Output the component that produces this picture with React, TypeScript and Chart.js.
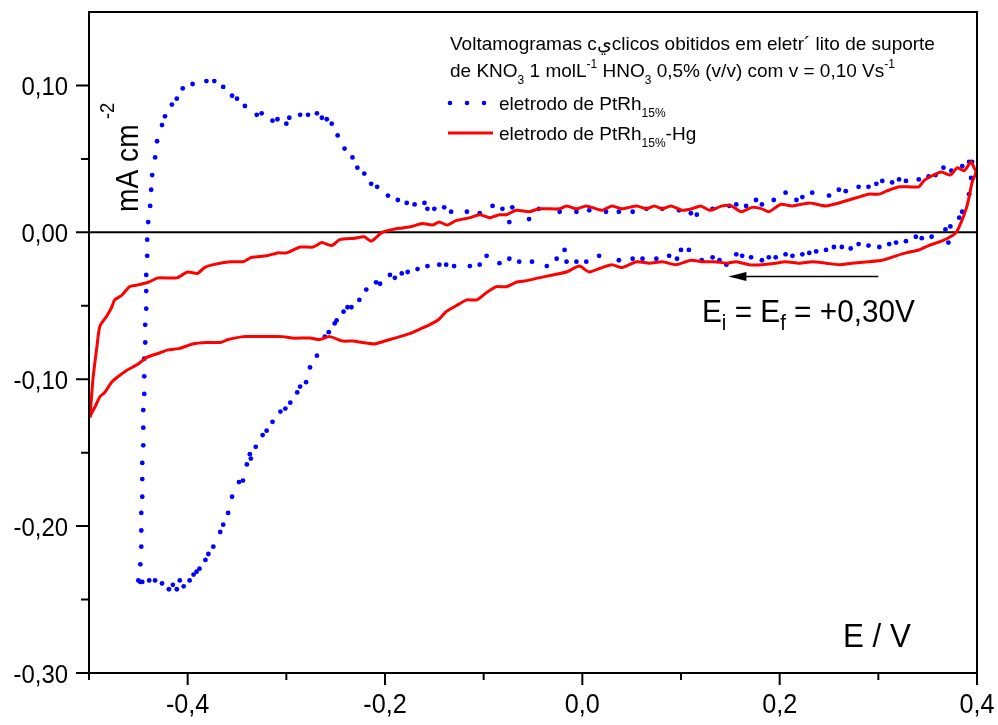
import React, { useEffect, useRef } from 'react';
import { Chart, registerables } from 'chart.js';

Chart.register(...registerables);

// ---- Data (E in V, current density in mA cm^-2) ----
const ptrhE = [
  0.394, 0.392, 0.385, 0.382, 0.373, 0.368, 0.371, 0.354, 0.344, 0.338, 0.328, 0.318, 0.311, 0.301, 0.290, 0.280,
  0.272, 0.263, 0.255, 0.247, 0.237, 0.230, 0.223, 0.213, 0.206, 0.196, 0.189, 0.182, 0.171, 0.162, 0.156, 0.146,
  0.139, 0.132, 0.121, 0.108, 0.100, 0.096, 0.088, 0.075, 0.061, 0.051, 0.037, 0.017, 0.004, -0.006, -0.016, -0.018,
  -0.026, -0.036, -0.051, -0.064, -0.074, -0.084, -0.097, -0.104, -0.114, -0.130, -0.138, -0.145, -0.157, -0.167,
  -0.177, -0.183, -0.190, -0.195, -0.205,
  -0.209, -0.219, -0.226, -0.234, -0.238, -0.242, -0.249, -0.251, -0.257, -0.261, -0.269, -0.276, -0.280, -0.286,
  -0.289, -0.296, -0.301, -0.306, -0.314, -0.320, -0.324, -0.331, -0.337, -0.336, -0.340, -0.344, -0.348, -0.355,
  -0.359, -0.364, -0.367, -0.374, -0.379, -0.382, -0.388, -0.391, -0.394, -0.398, -0.404, -0.408, -0.411, -0.415,
  -0.419, -0.426, -0.433, -0.439, -0.446, -0.448, -0.450,
  -0.448, -0.447, -0.447, -0.447, -0.446, -0.446, -0.446, -0.445, -0.445, -0.445, -0.444, -0.444, -0.444, -0.443,
  -0.443, -0.442, -0.442, -0.442, -0.441, -0.441, -0.440,
  -0.438, -0.437, -0.436, -0.433, -0.431, -0.426, -0.423, -0.416, -0.411, -0.405, -0.395, -0.381, -0.373, -0.364,
  -0.355, -0.350, -0.342, -0.330, -0.325, -0.314, -0.309, -0.300, -0.297, -0.286, -0.278, -0.269, -0.264, -0.259,
  -0.254, -0.248, -0.241, -0.233, -0.228, -0.221, -0.214, -0.208, -0.197, -0.187,
  -0.178, -0.170, -0.160, -0.157, -0.150, -0.140, -0.133, -0.117, -0.104, -0.091, -0.081, -0.074, -0.071, -0.054,
  -0.044, -0.023, -0.006, 0.007, 0.024, 0.037, 0.051, 0.065, 0.081, 0.098, 0.110, 0.116, 0.132, 0.149, 0.156, 0.166,
  0.176, 0.182, 0.194, 0.206, 0.217, 0.223, 0.233, 0.250, 0.260, 0.267, 0.280, 0.290, 0.298, 0.304, 0.314, 0.321,
  0.328, 0.341, 0.351, 0.358, 0.366, 0.374, 0.385, 0.392, 0.395,
];
const ptrhI = [
  0.037, 0.026, 0.014, 0.010, 0.004, 0.002, -0.007, -0.003, -0.004, -0.003, -0.006, -0.007, -0.008, -0.010, -0.009, -0.008,
  -0.011, -0.010, -0.010, -0.012, -0.013, -0.014, -0.015, -0.016, -0.015, -0.017, -0.017, -0.019, -0.017, -0.016, -0.015, -0.022,
  -0.019, -0.017, -0.019, -0.012, -0.012, -0.018, -0.016, -0.018, -0.018, -0.018, -0.019, -0.016, -0.020, -0.020, -0.020, -0.012,
  -0.018, -0.023, -0.020, -0.020, -0.018, -0.021, -0.016, -0.022, -0.023, -0.023, -0.022, -0.022, -0.023, -0.025,
  -0.027, -0.028, -0.031, -0.029, -0.035,
  -0.034, -0.039, -0.046, -0.051, -0.051, -0.054, -0.060, -0.062, -0.068, -0.071, -0.084, -0.092, -0.102, -0.105,
  -0.109, -0.116, -0.120, -0.122, -0.129, -0.135, -0.138, -0.146, -0.151, -0.154, -0.158, -0.169, -0.170, -0.180,
  -0.191, -0.199, -0.204, -0.214, -0.219, -0.223, -0.229, -0.231, -0.233, -0.237, -0.241, -0.237, -0.243, -0.240,
  -0.243, -0.239, -0.237, -0.237, -0.238, -0.238, -0.237,
  -0.226, -0.214, -0.203, -0.191, -0.180, -0.168, -0.157, -0.145, -0.133, -0.121, -0.110, -0.098, -0.086, -0.075,
  -0.063, -0.052, -0.040, -0.029, -0.016, -0.005, 0.007,
  0.018, 0.029, 0.039, 0.051, 0.062, 0.073, 0.079, 0.087, 0.091, 0.098, 0.101, 0.103, 0.103, 0.099,
  0.093, 0.091, 0.086, 0.080, 0.081, 0.076, 0.077, 0.074, 0.078, 0.080, 0.080, 0.081, 0.078, 0.077,
  0.074, 0.066, 0.057, 0.051, 0.044, 0.040, 0.033, 0.031, 0.025, 0.022,
  0.020, 0.019, 0.020, 0.016, 0.016, 0.017, 0.014, 0.014, 0.013, 0.018, 0.016, 0.007, 0.017, 0.009,
  0.016, 0.014, 0.014, 0.015, 0.014, 0.014, 0.014, 0.016, 0.016, 0.015, 0.013, 0.012, 0.016, 0.018, 0.019, 0.018,
  0.022, 0.019, 0.022, 0.027, 0.022, 0.024, 0.027, 0.025, 0.029, 0.028, 0.031, 0.031, 0.033, 0.035, 0.034, 0.036,
  0.035, 0.036, 0.038, 0.039, 0.044, 0.042, 0.045, 0.048, 0.048,
];

const hgE = [
  -0.499, -0.496, -0.492, -0.489, -0.482, -0.477, -0.474, -0.467, -0.459, -0.452, -0.440, -0.430, -0.411, -0.400,
  -0.390, -0.383, -0.374, -0.357, -0.344, -0.335, -0.320, -0.309, -0.300, -0.286, -0.273, -0.264, -0.254, -0.246,
  -0.231, -0.221, -0.214, -0.203, -0.192, -0.182, -0.173, -0.162, -0.152, -0.145, -0.137, -0.128, -0.114, -0.104,
  -0.094, -0.084, -0.077, -0.067, -0.054, -0.044, -0.023, -0.016, -0.006, 0.004, 0.014, 0.020, 0.030, 0.040, 0.055,
  0.065, 0.073, 0.081, 0.090, 0.101, 0.111, 0.120, 0.129, 0.142, 0.151, 0.161, 0.172, 0.182, 0.189, 0.201, 0.213,
  0.230, 0.247, 0.260, 0.270, 0.280, 0.290, 0.301, 0.308, 0.321, 0.331, 0.341, 0.346, 0.353, 0.364, 0.373, 0.380,
  0.387, 0.394, 0.397, 0.399, 0.395, 0.392, 0.389, 0.384, 0.379, 0.373, 0.364, 0.351, 0.341, 0.328, 0.318, 0.304,
  0.290, 0.273, 0.260, 0.247, 0.233, 0.220, 0.206, 0.196, 0.182, 0.169, 0.156, 0.146, 0.134, 0.121, 0.110, 0.095,
  0.081, 0.068, 0.055, 0.040, 0.030, 0.020, 0.007, -0.003, -0.016, -0.030, -0.044, -0.057, -0.067, -0.077, -0.087,
  -0.097, -0.107, -0.117, -0.128, -0.138, -0.145, -0.155, -0.165, -0.175, -0.185, -0.195, -0.205, -0.211, -0.223,
  -0.233, -0.243, -0.256, -0.266, -0.276, -0.294, -0.304, -0.320, -0.334, -0.344, -0.359, -0.367, -0.381, -0.395,
  -0.408, -0.420, -0.428, -0.441, -0.451, -0.462, -0.472, -0.477, -0.484, -0.489, -0.494, -0.498, -0.499,
];
const hgI = [
  -0.126, -0.100, -0.078, -0.064, -0.057, -0.051, -0.046, -0.043, -0.037, -0.036, -0.034, -0.031, -0.031, -0.027,
  -0.028, -0.024, -0.022, -0.020, -0.020, -0.017, -0.016, -0.014, -0.014, -0.010, -0.010, -0.007, -0.009, -0.005,
  -0.004, -0.003, -0.006, 0.000, 0.002, 0.003, 0.004, 0.006, 0.005, 0.007, 0.005, 0.008, 0.010, 0.012,
  0.010, 0.012, 0.012, 0.015, 0.014, 0.016, 0.016, 0.018, 0.016, 0.018, 0.016, 0.015, 0.018, 0.016, 0.018,
  0.016, 0.018, 0.016, 0.018, 0.015, 0.016, 0.018, 0.015, 0.018, 0.018, 0.014, 0.017, 0.016, 0.014, 0.019, 0.018,
  0.020, 0.018, 0.020, 0.022, 0.024, 0.026, 0.026, 0.028, 0.031, 0.031, 0.031, 0.035, 0.038, 0.041, 0.039, 0.044,
  0.042, 0.048, 0.044, 0.041, 0.034, 0.024, 0.016, 0.007, 0.000, -0.003, -0.006, -0.009, -0.012, -0.014, -0.016, -0.019,
  -0.020, -0.021, -0.022, -0.021, -0.020, -0.021, -0.020, -0.021, -0.022, -0.022, -0.020, -0.021, -0.020, -0.020, -0.019, -0.022,
  -0.020, -0.021, -0.020, -0.024, -0.022, -0.024, -0.027, -0.023, -0.027, -0.029, -0.031, -0.033, -0.034, -0.037, -0.037,
  -0.041, -0.046, -0.046, -0.050, -0.054, -0.059, -0.063, -0.066, -0.069, -0.071, -0.073, -0.075, -0.076, -0.075,
  -0.074, -0.074, -0.071, -0.073, -0.072, -0.072, -0.071, -0.071, -0.071, -0.071, -0.073, -0.075, -0.075, -0.076,
  -0.079, -0.080, -0.082, -0.085, -0.090, -0.094, -0.099, -0.102, -0.109, -0.112, -0.119, -0.124, -0.126,
];

const xMajorTicks = [-0.4, -0.2, 0, 0.2, 0.4];
const xTickLabels = ['-0,4', '-0,2', '0,0', '0,2', '0,4'];
const xMinorTicks = [-0.5, -0.3, -0.1, 0.1, 0.3];
const yMajorTicks = [0.1, 0, -0.1, -0.2, -0.3];
const yTickLabels = ['0,10', '0,00', '-0,10', '-0,20', '-0,30'];
const yMinorTicks = [0.05, -0.05, -0.15, -0.25];

const seriesNames = ['eletrodo de PtRh', 'eletrodo de PtRh'];
const BLUE = '#0000ff';
const RED = '#ff0000';
const FONT = '"Liberation Sans", Arial, Helvetica, sans-serif';

type Part = { t: string; size: number; dy?: number; dx?: number };

function drawRich(
  ctx: CanvasRenderingContext2D,
  x: number,
  y: number,
  parts: Part[],
  align: 'left' | 'center' | 'right' = 'left',
  sx = 1,
  rot = 0,
) {
  ctx.save();
  ctx.translate(x, y);
  if (rot) ctx.rotate(rot);
  ctx.scale(sx, 1);
  ctx.textAlign = 'left';
  ctx.textBaseline = 'alphabetic';
  ctx.fillStyle = '#000';
  let w = 0;
  for (const p of parts) {
    ctx.font = `${p.size}px ${FONT}`;
    w += ctx.measureText(p.t).width + (p.dx || 0);
  }
  let cx = align === 'center' ? -w / 2 : align === 'right' ? -w : 0;
  for (const p of parts) {
    ctx.font = `${p.size}px ${FONT}`;
    cx += p.dx || 0;
    ctx.fillText(p.t, cx, p.dy || 0);
    cx += ctx.measureText(p.t).width;
  }
  ctx.restore();
}

const decorPlugin = {
  id: 'decor',
  beforeDatasetsDraw(chart: any) {
    const { ctx, chartArea, scales } = chart;
    const y0 = scales.y.getPixelForValue(0);
    ctx.save();
    ctx.strokeStyle = '#000';
    ctx.lineWidth = 2;
    ctx.beginPath();
    ctx.moveTo(chartArea.left, y0);
    ctx.lineTo(chartArea.right, y0);
    ctx.stroke();
    ctx.restore();
  },
  afterDatasetsDraw(chart: any) {
    const { ctx, chartArea: a, scales } = chart;
    const xs = scales.x;
    const ys = scales.y;
    ctx.save();
    // frame
    ctx.strokeStyle = '#000';
    ctx.lineWidth = 2;
    ctx.strokeRect(a.left, a.top, a.right - a.left, a.bottom - a.top);
    // ticks
    ctx.beginPath();
    for (const v of yMajorTicks) {
      const p = ys.getPixelForValue(v);
      ctx.moveTo(a.left - 13, p);
      ctx.lineTo(a.left, p);
    }
    for (const v of yMinorTicks) {
      const p = ys.getPixelForValue(v);
      ctx.moveTo(a.left - 8, p);
      ctx.lineTo(a.left, p);
    }
    for (const v of xMajorTicks) {
      const p = xs.getPixelForValue(v);
      ctx.moveTo(p, a.bottom);
      ctx.lineTo(p, a.bottom + 12);
    }
    for (const v of xMinorTicks) {
      const p = xs.getPixelForValue(v);
      ctx.moveTo(p, a.bottom);
      ctx.lineTo(p, a.bottom + 7);
    }
    ctx.stroke();

    // tick labels
    yMajorTicks.forEach((v, i) => {
      const p = ys.getPixelForValue(v);
      drawRich(ctx, a.left - 21, p + 9.5, [{ t: yTickLabels[i], size: 26 }], 'right', 0.92);
    });
    xMajorTicks.forEach((v, i) => {
      const p = xs.getPixelForValue(v);
      drawRich(ctx, p, a.bottom + 40, [{ t: xTickLabels[i], size: 28 }], 'center', 0.9);
    });

    // axis titles
    drawRich(
      ctx,
      a.left + 49,
      a.top + 200,
      [
        { t: 'mA cm', size: 32 },
        { t: '-2', size: 21, dy: -24, dx: 6 },
      ],
      'left',
      0.88,
      -Math.PI / 2,
    );
    drawRich(ctx, a.right - 134, a.bottom - 26, [{ t: 'E / V', size: 34 }], 'left', 0.92);

    // sweep arrow: from Ei = +0.30 V towards negative potentials
    const ax1 = xs.getPixelForValue(0.30);
    const ax2 = xs.getPixelForValue(0.148);
    const ay = ys.getPixelForValue(-0.030);
    ctx.strokeStyle = '#000';
    ctx.lineWidth = 1.5;
    ctx.beginPath();
    ctx.moveTo(ax1, ay);
    ctx.lineTo(ax2 + 10, ay);
    ctx.stroke();
    ctx.fillStyle = '#000';
    ctx.beginPath();
    ctx.moveTo(ax2, ay);
    ctx.lineTo(ax2 + 18, ay - 4.5);
    ctx.lineTo(ax2 + 18, ay + 4.5);
    ctx.closePath();
    ctx.fill();

    drawRich(ctx, 702, 322, [
      { t: 'E', size: 32 },
      { t: 'i', size: 22, dy: 8 },
      { t: ' = E', size: 32 },
      { t: 'f', size: 22, dy: 8 },
      { t: ' = +0,30V', size: 32 },
    ], 'left', 0.93);

    // legend block
    drawRich(ctx, 450, 50, [{ t: 'Voltamogramas cيclicos obitidos em eletr´ lito de suporte', size: 19 }]);
    drawRich(ctx, 450, 77, [
      { t: 'de KNO', size: 19 },
      { t: '3', size: 12, dy: 7 },
      { t: ' 1 molL', size: 19 },
      { t: '-1', size: 12, dy: -9 },
      { t: ' HNO', size: 19 },
      { t: '3', size: 12, dy: 7 },
      { t: ' 0,5% (v/v) com v = 0,10 Vs', size: 19 },
      { t: '-1', size: 12, dy: -9 },
    ]);
    ctx.fillStyle = BLUE;
    for (const dx of [0, 17, 34]) {
      ctx.beginPath();
      ctx.arc(450 + dx, 103, 2.3, 0, Math.PI * 2);
      ctx.fill();
    }
    drawRich(ctx, 499, 110, [
      { t: seriesNames[0], size: 19 },
      { t: '15%', size: 12, dy: 7 },
    ]);
    ctx.strokeStyle = RED;
    ctx.lineWidth = 3;
    ctx.beginPath();
    ctx.moveTo(448, 133);
    ctx.lineTo(493, 133);
    ctx.stroke();
    drawRich(ctx, 499, 140, [
      { t: seriesNames[1], size: 19 },
      { t: '15%', size: 12, dy: 7 },
      { t: '-Hg', size: 19 },
    ]);
    ctx.restore();
  },
};

export default function App() {
  const ref = useRef<HTMLCanvasElement | null>(null);
  useEffect(() => {
    const canvas = ref.current;
    if (!canvas) return;
    const chart = new Chart(canvas, {
      type: 'line',
      data: {
        datasets: [
          {
            label: seriesNames[0] + '15%',
            data: ptrhE.map((e, i) => ({ x: e, y: ptrhI[i] })),
            showLine: false,
            pointRadius: 2.4,
            pointBorderWidth: 0,
            pointBackgroundColor: BLUE,
            borderColor: BLUE,
            backgroundColor: BLUE,
            order: 1,
          },
          {
            label: seriesNames[1] + '15%-Hg',
            data: hgE.map((e, i) => ({ x: e, y: hgI[i] })),
            borderColor: RED,
            borderWidth: 3,
            pointRadius: 0,
            tension: 0.2,
            fill: false,
            order: 0,
          },
        ],
      },
      options: {
        animation: false,
        responsive: false,
        maintainAspectRatio: false,
        events: [],
        layout: { padding: { top: 12, right: 21, left: 0, bottom: 0 } },
        plugins: { legend: { display: false }, tooltip: { enabled: false } },
        scales: {
          x: {
            type: 'linear',
            min: -0.5,
            max: 0.4,
            grid: { display: false, drawTicks: false },
            border: { display: false },
            ticks: { display: false },
            afterFit: (s: any) => {
              s.height = 52;
            },
          },
          y: {
            type: 'linear',
            min: -0.3,
            max: 0.15,
            grid: { display: false, drawTicks: false },
            border: { display: false },
            ticks: { display: false },
            afterFit: (s: any) => {
              s.width = 89;
            },
          },
        },
      },
      plugins: [decorPlugin],
    } as any);
    return () => chart.destroy();
  }, []);
  return (
    <div style={{ position: 'fixed', left: 0, top: 0, width: 998, height: 725, background: '#fff' }}>
      <canvas ref={ref} width={998} height={725} style={{ display: 'block' }} />
    </div>
  );
}
